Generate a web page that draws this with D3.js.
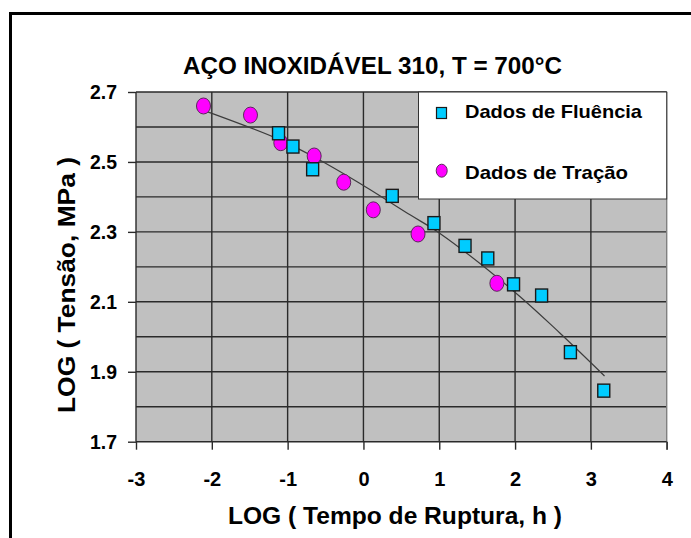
<!DOCTYPE html>
<html>
<head>
<meta charset="utf-8">
<script src="https://cdn.jsdelivr.net/npm/d3@7"></script>
<style>
    body { margin: 0; background: #fff; }
    text { font-family: "Liberation Sans", Arial, sans-serif; font-weight: bold; fill: #000; }
</style>
</head>
<body>
<script>
// values
var xTicks = [-3, -2, -1, 0, 1, 2, 3, 4];
var yTicks = [1.7, 1.9, 2.1, 2.3, 2.5, 2.7];
var yGrid = [1.8, 1.9, 2.0, 2.1, 2.2, 2.3, 2.4, 2.5, 2.6];
var xGrid = [-2, -1, 0, 1, 2, 3];

// Dados de Fluência (squares)
var fluenciaX = [-1.12, -0.93, -0.67, 0.38, 0.93, 1.34, 1.64, 1.98, 2.35, 2.73, 3.17];
var fluenciaY = [2.582, 2.544, 2.479, 2.403, 2.325, 2.260, 2.224, 2.150, 2.118, 1.956, 1.846];

// Dados de Tração (circles)
var tracaoX = [-2.11, -1.49, -1.09, -0.65, -0.26, 0.13, 0.72, 1.76];
var tracaoY = [2.660, 2.634, 2.555, 2.517, 2.442, 2.363, 2.294, 2.153];

// trend line, points
var trendX = [-2.09, -1.13, -0.65, -0.05, 0.62, 1.00, 1.99, 2.59, 3.18];
var trendY = [2.646, 2.566, 2.514, 2.439, 2.348, 2.297, 2.129, 2.011, 1.888];

function f() {
    var W = 691, H = 538;
    var pl = 136, pr = 666.7, pt = 92, pb = 441.7;

    var x = d3.scaleLinear().domain([-3, 4]).range([pl, pr]);
    var y = d3.scaleLinear().domain([1.7, 2.7]).range([pb, pt]);

    var svg = d3.select("body").append("svg")
        .attr("width", W)
        .attr("height", H);

    // outer frame (cut at right and bottom)
    svg.append("path")
        .attr("d", "M10.5," + (H + 5) + "V13.5H" + (W + 5))
        .attr("fill", "none")
        .attr("stroke", "#000")
        .attr("stroke-width", 3);

    // plot area
    svg.append("rect")
        .attr("x", pl)
        .attr("y", pt)
        .attr("width", pr - pl)
        .attr("height", pb - pt)
        .attr("fill", "#c0c0c0");

    svg.selectAll(".hgrid")
        .data(yGrid)
        .enter()
        .append("line")
        .attr("class", "hgrid")
        .attr("x1", pl)
        .attr("x2", pr)
        .attr("y1", function(d) { return y(d); })
        .attr("y2", function(d) { return y(d); })
        .attr("stroke", "#2a2a2a")
        .attr("stroke-width", 1.4);

    svg.selectAll(".vgrid")
        .data(xGrid)
        .enter()
        .append("line")
        .attr("class", "vgrid")
        .attr("x1", function(d) { return x(d); })
        .attr("x2", function(d) { return x(d); })
        .attr("y1", pt)
        .attr("y2", pb)
        .attr("stroke", "#2a2a2a")
        .attr("stroke-width", 1.4);

    // top and right borders
    svg.append("line")
        .attr("x1", pl).attr("x2", pr)
        .attr("y1", pt).attr("y2", pt)
        .attr("stroke", "#2a2a2a").attr("stroke-width", 1.4);
    svg.append("line")
        .attr("x1", pr).attr("x2", pr)
        .attr("y1", pt).attr("y2", pb + 8)
        .attr("stroke", "#808080").attr("stroke-width", 1.4);

    // axes
    var xAxis = svg.append("g")
        .attr("transform", "translate(0," + pb + ")")
        .call(d3.axisBottom(x).tickValues(xTicks).tickSize(8).tickPadding(22).tickFormat(d3.format("d")));
    var yAxis = svg.append("g")
        .attr("transform", "translate(" + pl + ",0)")
        .call(d3.axisLeft(y).tickValues(yTicks).tickSize(8).tickPadding(11).tickFormat(d3.format(".1f")));

    [xAxis, yAxis].forEach(function(g) {
        g.select(".domain").attr("stroke", "#2a2a2a").attr("stroke-width", 1.4);
        g.selectAll(".tick line").attr("stroke", "#2a2a2a").attr("stroke-width", 1.4);
        g.selectAll(".tick text")
            .style("font-size", "20px")
            .style("font-family", "'Liberation Sans', Arial, sans-serif")
            .style("font-weight", "bold")
            .attr("fill", "#000");
    });
    xAxis.selectAll(".tick text").text(function(d) { return d < 0 ? "-" + Math.abs(d) : d; });
    yAxis.selectAll(".tick text").attr("textLength", 27).attr("lengthAdjust", "spacingAndGlyphs");
    xAxis.select(".domain").attr("d", "M" + pl + ",0H" + pr);
    yAxis.select(".domain").attr("d", "M0," + pt + "V" + pb);

    // trend line
    var trendData = trendX.map(function(d, i) { return [d, trendY[i]]; });
    var trend = d3.line()
        .x(function(d) { return x(d[0]); })
        .y(function(d) { return y(d[1]); })
        .curve(d3.curveCatmullRom);

    svg.append("path")
        .datum(trendData)
        .attr("d", trend)
        .attr("fill", "none")
        .attr("stroke", "#3c3c3c")
        .attr("stroke-width", 1.2);

    // points
    var fluencia = fluenciaX.map(function(d, i) { return {x: d, y: fluenciaY[i]}; });
    var tracao = tracaoX.map(function(d, i) { return {x: d, y: tracaoY[i]}; });

    svg.selectAll(".trac")
        .data(tracao)
        .enter()
        .append("ellipse")
        .attr("class", "trac")
        .attr("cx", function(d) { return x(d.x); })
        .attr("cy", function(d) { return y(d.y); })
        .attr("rx", 7)
        .attr("ry", 8)
        .attr("fill", "#ff00ff")
        .attr("stroke", "#5a2a5a")
        .attr("stroke-width", 1);

    svg.selectAll(".flu")
        .data(fluencia)
        .enter()
        .append("rect")
        .attr("class", "flu")
        .attr("x", function(d) { return x(d.x) - 6; })
        .attr("y", function(d) { return y(d.y) - 6.5; })
        .attr("width", 12)
        .attr("height", 13)
        .attr("fill", "#00ccff")
        .attr("stroke", "#1a1a1a")
        .attr("stroke-width", 1.4);

    // legend
    var legend = svg.append("g");
    legend.append("rect")
        .attr("x", 418.5)
        .attr("y", pt)
        .attr("width", pr - 418.5)
        .attr("height", 107)
        .attr("fill", "#fff")
        .attr("stroke", "#333")
        .attr("stroke-width", 1);
    legend.append("rect")
        .attr("x", 436.5).attr("y", 107.5)
        .attr("width", 10).attr("height", 11)
        .attr("fill", "#00ccff").attr("stroke", "#1a1a1a").attr("stroke-width", 1.2);
    legend.append("ellipse")
        .attr("cx", 441.7).attr("cy", 170.7)
        .attr("rx", 5.5).attr("ry", 6.5)
        .attr("fill", "#ff00ff").attr("stroke", "#5a2a5a").attr("stroke-width", 1);
    legend.append("text")
        .attr("x", 465).attr("y", 118)
        .style("font-size", "19px")
        .attr("textLength", 177).attr("lengthAdjust", "spacingAndGlyphs")
        .text("Dados de Fluência");
    legend.append("text")
        .attr("x", 465).attr("y", 179)
        .style("font-size", "19px")
        .attr("textLength", 163).attr("lengthAdjust", "spacingAndGlyphs")
        .text("Dados de Tração");

    // titles
    svg.append("text")
        .attr("x", 183)
        .attr("y", 74)
        .style("font-size", "23px")
        .attr("textLength", 379).attr("lengthAdjust", "spacingAndGlyphs")
        .text("AÇO INOXIDÁVEL 310, T = 700°C");

    svg.append("text")
        .attr("x", 228)
        .attr("y", 524)
        .style("font-size", "23px")
        .attr("textLength", 334).attr("lengthAdjust", "spacingAndGlyphs")
        .text("LOG ( Tempo de Ruptura, h )");

    svg.append("text")
        .attr("transform", "translate(75,413) rotate(-90)")
        .style("font-size", "23px")
        .attr("textLength", 256).attr("lengthAdjust", "spacingAndGlyphs")
        .text("LOG ( Tensão,  MPa )");
}

f();
</script>
</body>
</html>
